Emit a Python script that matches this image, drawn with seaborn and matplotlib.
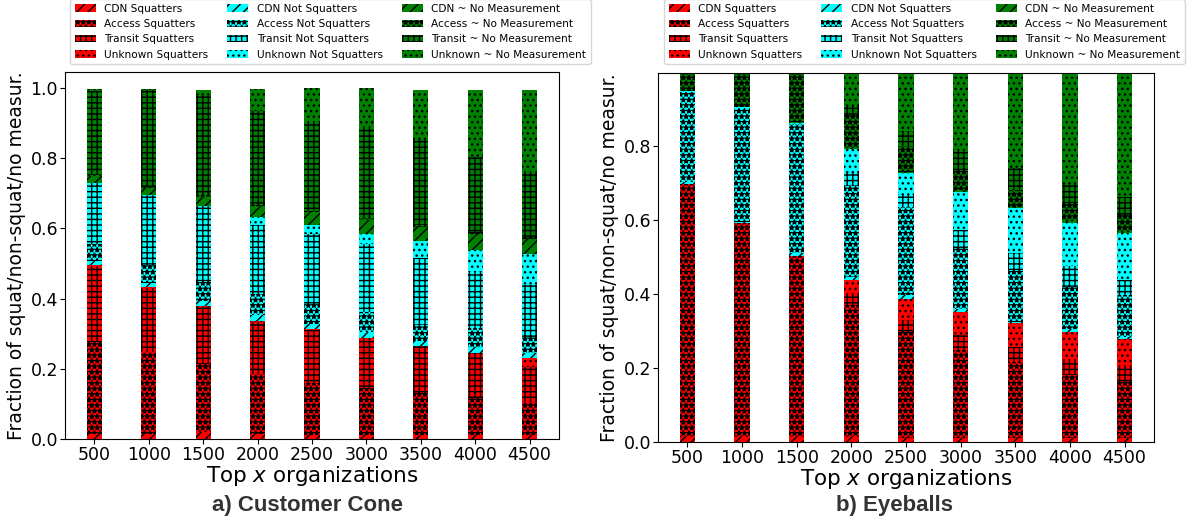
#%% Biblioteke
import numpy as np
import pandas as pd
import matplotlib
matplotlib.use('Agg')
import matplotlib.pyplot as plt
import seaborn as sns

#%% Podaci - udeo po tipu organizacije (ocitano sa grafika)
orgs = ['500', '1000', '1500', '2000', '2500', '3000', '3500', '4000', '4500']

labels = ['CDN Squatters', 'Access Squatters', 'Transit Squatters', 'Unknown Squatters',
          'CDN Not Squatters', 'Access Not Squatters', 'Transit Not Squatters', 'Unknown Not Squatters',
          'CDN ~ No Measurement', 'Access ~ No Measurement', 'Transit ~ No Measurement',
          'Unknown ~ No Measurement']

# a) Customer Cone
cone_cdn_sq = [0.015, 0.015, 0.022, 0.015, 0.012, 0.012, 0.012, 0.012, 0.012]
cone_acc_sq = [0.262, 0.234, 0.192, 0.172, 0.147, 0.133, 0.119, 0.104, 0.095]
cone_tra_sq = [0.216, 0.182, 0.164, 0.147, 0.153, 0.142, 0.134, 0.128, 0.099]
cone_unk_sq = [0.002, 0.001, 0.001, 0.001, 0.001, 0.001, 0.001, 0.001, 0.026]
cone_cdn_ns = [0.011, 0.011, 0.015, 0.018, 0.016, 0.018, 0.014, 0.016, 0.012]
cone_acc_ns = [0.048, 0.052, 0.056, 0.059, 0.057, 0.056, 0.045, 0.054, 0.047]
cone_tra_ns = [0.174, 0.198, 0.210, 0.197, 0.199, 0.194, 0.189, 0.161, 0.147]
cone_unk_ns = [0.002, 0.002, 0.002, 0.023, 0.023, 0.029, 0.049, 0.063, 0.088]
cone_cdn_nm = [0.018, 0.020, 0.028, 0.031, 0.038, 0.039, 0.041, 0.046, 0.044]
cone_acc_nm = [0.004, 0.003, 0.004, 0.004, 0.004, 0.004, 0.004, 0.004, 0.005]
cone_tra_nm = [0.238, 0.274, 0.283, 0.266, 0.256, 0.264, 0.242, 0.213, 0.189]
cone_unk_nm = [0.005, 0.003, 0.016, 0.062, 0.092, 0.106, 0.144, 0.192, 0.230]

# b) Eyeballs
eye_cdn_sq = [0.012, 0.012, 0.012, 0.012, 0.010, 0.010, 0.010, 0.010, 0.010]
eye_acc_sq = [0.685, 0.579, 0.490, 0.358, 0.288, 0.238, 0.206, 0.170, 0.152]
eye_tra_sq = [0.000, 0.000, 0.000, 0.030, 0.032, 0.041, 0.039, 0.045, 0.045]
eye_unk_sq = [0.000, 0.000, 0.000, 0.037, 0.055, 0.063, 0.065, 0.073, 0.071]
eye_cdn_ns = [0.006, 0.004, 0.008, 0.008, 0.012, 0.006, 0.005, 0.006, 0.006]
eye_acc_ns = [0.244, 0.309, 0.350, 0.247, 0.239, 0.165, 0.141, 0.115, 0.113]
eye_tra_ns = [0.000, 0.000, 0.000, 0.034, 0.031, 0.050, 0.045, 0.056, 0.040]
eye_unk_ns = [0.001, 0.001, 0.002, 0.065, 0.059, 0.103, 0.122, 0.118, 0.128]
eye_cdn_nm = [0.002, 0.002, 0.002, 0.004, 0.004, 0.004, 0.003, 0.003, 0.003]
eye_acc_nm = [0.050, 0.093, 0.136, 0.089, 0.070, 0.055, 0.045, 0.049, 0.045]
eye_tra_nm = [0.000, 0.000, 0.000, 0.024, 0.040, 0.054, 0.061, 0.052, 0.048]
eye_unk_nm = [0.000, 0.000, 0.000, 0.092, 0.160, 0.211, 0.258, 0.303, 0.339]

cone = [cone_cdn_sq, cone_acc_sq, cone_tra_sq, cone_unk_sq,
        cone_cdn_ns, cone_acc_ns, cone_tra_ns, cone_unk_ns,
        cone_cdn_nm, cone_acc_nm, cone_tra_nm, cone_unk_nm]
eye = [eye_cdn_sq, eye_acc_sq, eye_tra_sq, eye_unk_sq,
       eye_cdn_ns, eye_acc_ns, eye_tra_ns, eye_unk_ns,
       eye_cdn_nm, eye_acc_nm, eye_tra_nm, eye_unk_nm]

colors = ['red'] * 4 + ['cyan'] * 4 + ['green'] * 4
hatches = ['///', '***', '+++', '...'] * 3

#%% Crtanje
plt.rcParams['hatch.linewidth'] = 1.0

W, H = 1193, 529
fig = plt.figure(figsize=(W / 100, H / 100), dpi=100)
ax1 = fig.add_axes([65 / W, (H - 439.3) / H, (559 - 65) / W, (439.3 - 71.7) / H])
ax2 = fig.add_axes([658 / W, (H - 441.7) / H, (1154 - 658) / W, (441.7 - 73.3) / H])


def stacked(ax, layers):
    bottom = np.zeros(len(orgs))
    for vals, lab, col, hat in zip(layers, labels, colors, hatches):
        d = pd.DataFrame({'org': orgs, 'frac': vals})
        sns.barplot(data=d, x='org', y='frac', ax=ax, color=col, saturation=1,
                    hatch=hat, edgecolor='black', linewidth=0, width=0.28,
                    bottom=bottom, label=lab, errorbar=None)
        bottom = bottom + np.array(vals)
    ax.set_xlabel('Top $x$ organizations', fontsize=15.5, labelpad=0)
    ax.set_ylabel('Fraction of squat/non-squat/no measur.', fontsize=13.5, labelpad=3)
    ax.tick_params(labelsize=12.5, pad=1.5)
    ax.set_xlim(-0.54, 8.54)


stacked(ax1, cone)
stacked(ax2, eye)
ax1.set_ylim(0, 1.045)
ax1.set_yticks([0, 0.2, 0.4, 0.6, 0.8, 1.0])
ax2.set_ylim(0, 0.997)
ax2.set_yticks([0, 0.2, 0.4, 0.6, 0.8])

ax1.legend(ncol=3, fontsize=7.6, columnspacing=1.8, loc='upper left',
           bbox_to_anchor=(65 / W, 1.011), bbox_transform=fig.transFigure)
ax2.legend(ncol=3, fontsize=7.6, columnspacing=1.8, loc='upper left',
           bbox_to_anchor=(659 / W, 1.011), bbox_transform=fig.transFigure)

fig.text(308 / W, 1 - 506 / H, 'a) Customer Cone', ha='center', va='center', fontsize=16,
         fontweight='bold', family='Liberation Sans', color='#333333')
fig.text(895 / W, 1 - 506 / H, 'b) Eyeballs', ha='center', va='center', fontsize=16,
         fontweight='bold', family='Liberation Sans', color='#333333')

plt.savefig('out.png', dpi=100)
